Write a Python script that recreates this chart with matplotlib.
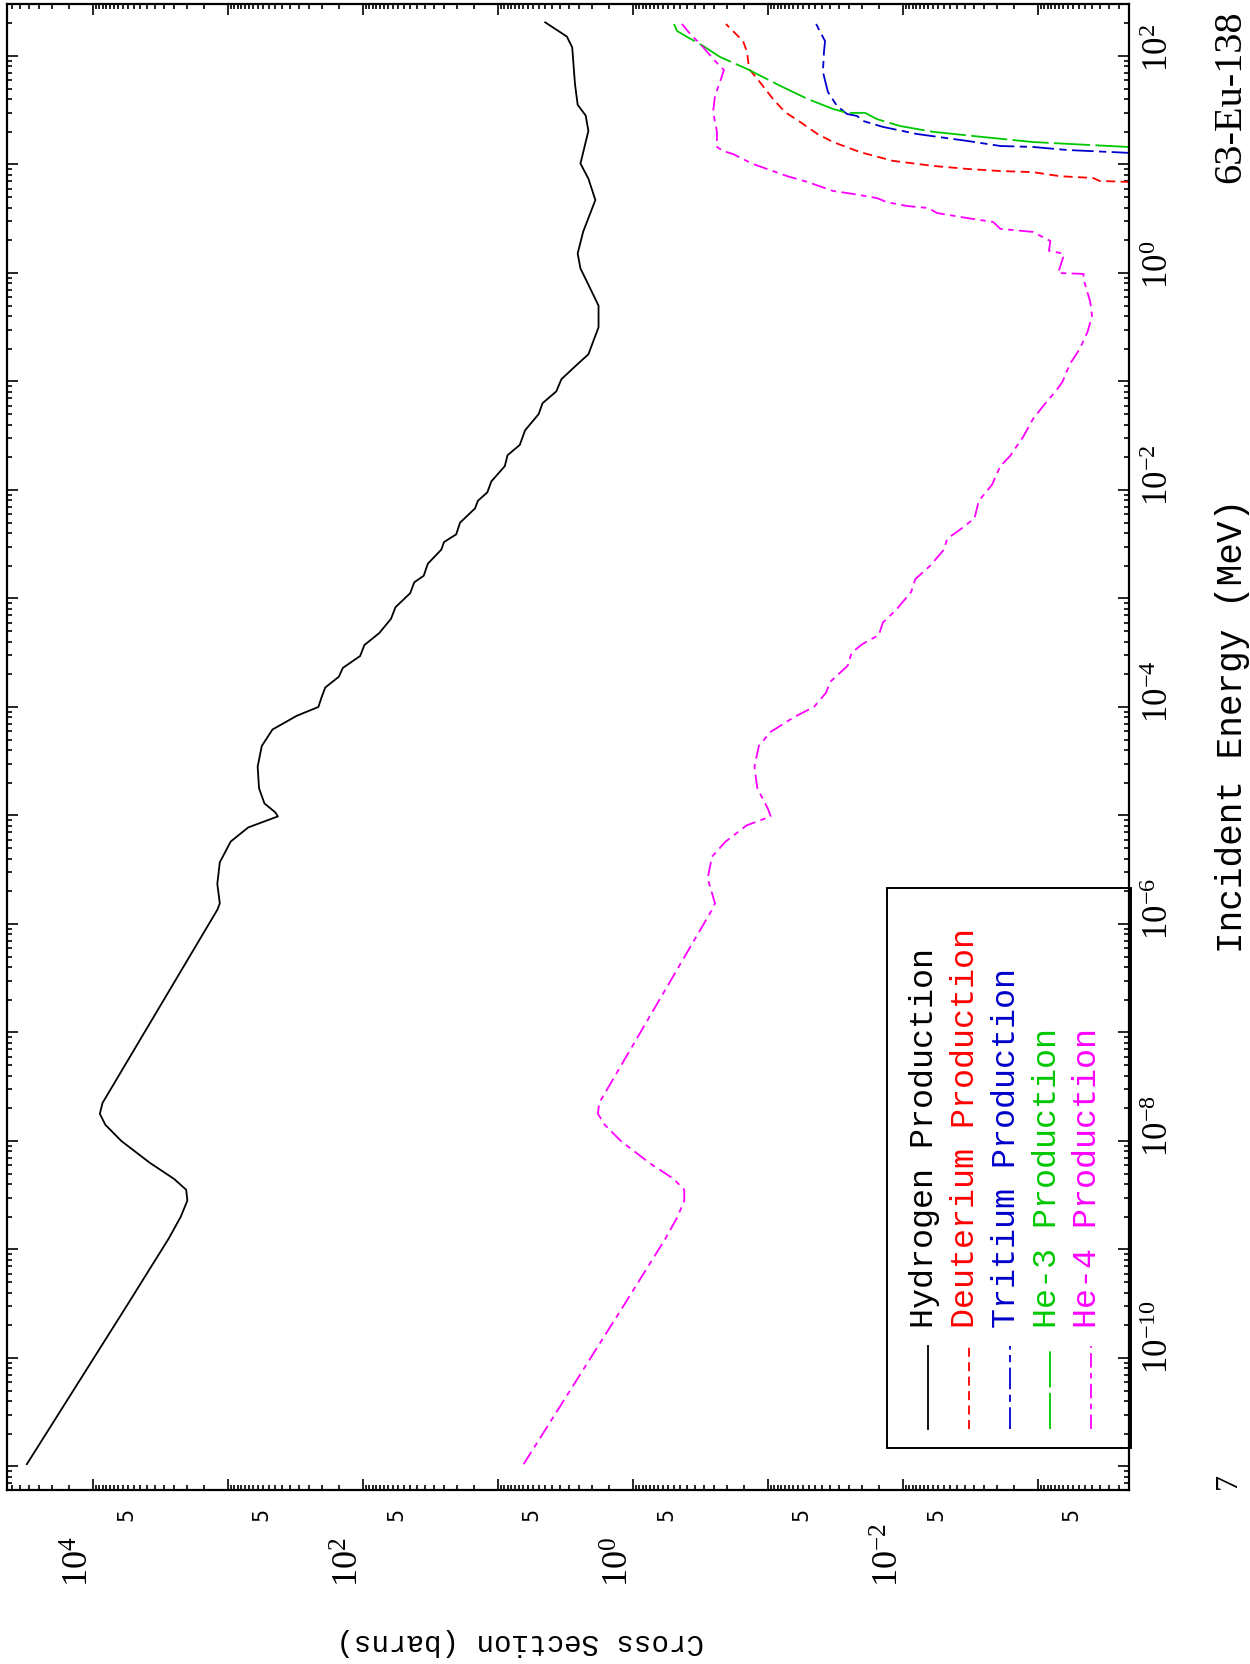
import numpy as np
import matplotlib.pyplot as plt
from matplotlib import transforms as mtransforms
from matplotlib.patches import Rectangle
from matplotlib.ticker import LogLocator, NullFormatter

plt.rcParams['mathtext.fontset'] = 'custom'
plt.rcParams['mathtext.rm'] = 'Liberation Serif'
plt.rcParams['mathtext.it'] = 'Liberation Serif:italic'

# incident energy (MeV) and cross section (barns)
h_e = [1.05e-11, 3.16e-10, 1.26e-9, 2.0e-9, 2.82e-9, 3.55e-9, 4.47e-9, 6.3e-9, 1.0e-8,
       1.41e-8, 1.78e-8, 2.24e-8, 1.35e-6, 1.55e-6, 2.34e-6, 3.7e-6, 5.75e-6, 7.76e-6,
       9.8e-6, 1.07e-5, 1.29e-5, 1.78e-5, 2.82e-5, 4.37e-5, 6.2e-5, 8.3e-5, 1.0e-4,
       1.2e-4, 1.51e-4, 1.9e-4, 2.29e-4, 2.95e-4, 3.72e-4, 4.79e-4, 6.5e-4, 8.3e-4,
       1.12e-3, 1.41e-3, 1.62e-3, 2.09e-3, 2.82e-3, 3.31e-3, 3.9e-3, 5.0e-3, 6.76e-3,
       7.94e-3, 9.5e-3, 1.2e-2, 1.66e-2, 2.09e-2, 2.6e-2, 3.55e-2, 5.0e-2, 6.3e-2, 8.1e-2,
       0.105, 0.141, 0.178, 0.316, 0.50, 0.78, 1.10, 1.51, 2.40, 4.7, 7.4, 10.2, 20.4,
       28.2, 35.5, 55, 120, 151, 204]
h_xs = [3.09e4, 5.5e3, 2.75e3, 2.24e3, 2.0e3, 2.04e3, 2.51e3, 3.8e3, 6.17e3,
        8.1e3, 8.9e3, 8.5e3, 1.2e3, 1.15e3, 1.2e3, 1.15e3, 955, 708,
        427, 447, 537, 589, 603, 562, 468, 309, 214,
        204, 190.5, 151, 141, 105, 97.7, 75.9, 62, 57.5,
        44.7, 41.7, 35.5, 33.1, 26.3, 25.1, 20.4, 19.1, 14.8,
        14.1, 12.0, 11.2, 8.9, 8.5, 6.9, 6.3, 5.0, 4.68, 3.7,
        3.39, 2.63, 2.14, 1.80, 1.80, 2.14, 2.45, 2.57, 2.34, 1.9, 2.14, 2.45, 2.14,
        2.24, 2.57, 2.69, 2.82, 3.09, 4.47]

d_e = [6.86, 6.9, 7.05, 7.5, 7.8, 8.5, 8.7, 9.1, 9.7, 10.8, 13.0, 16.1, 19.1, 24.7,
       30.5, 40.2, 57.5, 75.9, 109, 137, 197]
d_xs = [1e-4, 2.1e-4, 3.5e-4, 3.9e-4, 6.9e-4, 1.09e-3, 1.9e-3, 3.36e-3, 6.0e-3, 1.19e-2,
        2.08e-2, 3.3e-2, 4.3e-2, 5.8e-2, 7.5e-2, 9.2e-2, 0.115, 0.138, 0.143, 0.153, 0.205]

t_e = [12.6, 12.8, 13.6, 14.5, 14.8, 16.5, 19.1, 22.2, 25.2, 28.0, 29.2, 34.6, 46.6,
       71.3, 109, 137, 197]
t_xs = [1e-4, 2.15e-4, 6.1e-4, 1.09e-3, 1.9e-3, 3.36e-3, 7.9e-3, 1.41e-2, 1.98e-2,
        2.19e-2, 2.6e-2, 3.08e-2, 3.6e-2, 3.92e-2, 3.85e-2, 3.78e-2, 4.4e-2]

he3_e = [14.1, 14.5, 15.5, 16.1, 17.9, 20.0, 22.6, 26.2, 29.9, 29.9, 32.5, 40.2, 53,
         75.9, 98, 124, 150, 170, 197]
he3_xs = [1e-4, 2.15e-4, 6.1e-4, 1.09e-3, 2.55e-3, 6.0e-3, 1.05e-2, 1.56e-2, 1.91e-2,
          2.6e-2, 3.3e-2, 5.1e-2, 8.1e-2, 0.143, 0.227, 0.303, 0.398, 0.472, 0.497]

he4_e = [1.05e-11, 3.16e-10, 1.26e-9, 2.0e-9, 2.82e-9, 3.55e-9, 4.47e-9, 6.3e-9, 1.0e-8,
         1.41e-8, 1.78e-8, 2.24e-8, 1.35e-6, 1.55e-6, 2.63e-6, 4.17e-6, 5.75e-6, 8.1e-6,
         9.8e-6, 1.15e-5, 1.78e-5, 2.82e-5, 4.37e-5, 5.9e-5, 8.1e-5, 1.0e-4, 1.35e-4,
         1.7e-4, 2.4e-4, 3.16e-4, 3.8e-4, 4.6e-4, 6.0e-4, 7.9e-4, 1.15e-3, 1.51e-3,
         2.0e-3, 2.8e-3, 3.55e-3, 4.4e-3, 5.5e-3, 7.9e-3, 1.12e-2, 1.66e-2, 2.06e-2,
         3.08e-2, 4.5e-2, 5.9e-2, 8.5e-2, 9.9e-2, 0.145, 0.20, 0.286, 0.40, 0.54, 0.88,
         0.98, 1.0, 1.40, 1.51, 1.6, 1.97, 2.39, 2.55, 2.95, 3.21, 3.57, 3.97, 4.14, 4.5,
         4.9, 5.35, 5.7, 6.9, 7.8, 9.1, 10.1, 11.2, 12.5, 13.3, 14.5, 20, 30.5, 42.8,
         57.5, 74.3, 90, 121, 160, 197]
he4_xs = [6.46, 1.15, 0.575, 0.468, 0.417, 0.417, 0.50, 0.76, 1.23,
          1.62, 1.82, 1.78, 0.26, 0.247, 0.28, 0.26, 0.206, 0.144,
          0.0955, 0.1, 0.12, 0.126, 0.117, 0.0955, 0.0637, 0.0457, 0.0372,
          0.0347, 0.0257, 0.024, 0.020, 0.0151, 0.0141, 0.0112, 8.7e-3, 8.1e-3,
          6.3e-3, 5.0e-3, 4.7e-3, 3.7e-3, 2.95e-3, 2.75e-3, 2.19e-3, 1.9e-3, 1.61e-3,
          1.29e-3, 1.09e-3, 9.2e-4, 7.2e-4, 6.6e-4, 5.8e-4, 4.9e-4, 4.3e-4, 3.98e-4, 4.1e-4, 4.6e-4,
          4.6e-4, 7.1e-4, 6.5e-4, 6.5e-4, 8.3e-4, 8.1e-4, 1.09e-3, 1.9e-3, 2.15e-3, 3.36e-3, 5.6e-3, 6.5e-3, 9.3e-3, 1.32e-2,
          1.56e-2, 2.34e-2, 3.3e-2, 5.1e-2, 7.2e-2, 0.102, 0.129, 0.153, 0.182, 0.215, 0.239, 0.239, 0.255, 0.247,
          0.227, 0.212, 0.247, 0.303, 0.378, 0.434]

names = ['Hydrogen Production', 'Deuterium Production', 'Tritium Production',
         'He-3 Production', 'He-4 Production']
energies = [h_e, d_e, t_e, he3_e, he4_e]
xsecs = [h_xs, d_xs, t_xs, he3_xs, he4_xs]
colors = ['black', '#ff0000', '#0000cc', '#00c800', '#ff00ff']
dashes = [None, (5, 3), (12, 3, 4, 3), (20, 3), (8, 3, 3, 3)]

fig = plt.figure(figsize=(12.5, 16.65), dpi=100)
# the plot is drawn sideways: cross section runs along x (reversed), energy along y
ax = fig.add_axes([0.0056, 0.1045, 0.8976, 0.8925])
ax.set_xscale('log')
ax.set_yscale('log')

for e, xs, c, d in zip(energies, xsecs, colors, dashes):
    ln, = ax.plot(xs, e, color=c, lw=1.3)
    if d is not None:
        ln.set_dashes(d)

ax.set_xlim(10**4.637, 10**-3.674)
ax.set_ylim(10**-11.217, 10**2.479)

ax.xaxis.set_major_locator(LogLocator(base=10, numticks=30))
ax.xaxis.set_minor_locator(LogLocator(base=10, subs=np.arange(1.5, 10, 0.5), numticks=30))
ax.yaxis.set_major_locator(LogLocator(base=10, numticks=30))
ax.yaxis.set_minor_locator(LogLocator(base=10, subs=np.arange(2, 10), numticks=30))
for axis in (ax.xaxis, ax.yaxis):
    axis.set_major_formatter(NullFormatter())
    axis.set_minor_formatter(NullFormatter())
ax.tick_params(which='both', direction='in', top=True, right=True, width=1.2)
ax.tick_params(which='major', length=8)
ax.tick_params(which='minor', length=3.5)
for s in ax.spines.values():
    s.set_linewidth(1.6)

# tick labels, rotated like the rest of the page
xtr = ax.get_xaxis_transform()
ytr = ax.get_yaxis_transform()
for p in [4, 2, 0, -2]:
    tr = mtransforms.offset_copy(xtr, fig=fig, x=4, y=-96, units='dots')
    ax.text(10.0**p, 0, r'$10^{%d}$' % p, transform=tr, rotation=90,
            ha='right', va='bottom', fontsize=26, fontfamily='Liberation Serif')
for p in range(3, -5, -1):
    tr = mtransforms.offset_copy(xtr, fig=fig, x=3, y=-17, units='dots')
    ax.text(5 * 10.0**p, 0, '5', transform=tr, rotation=90,
            ha='right', va='top', fontsize=15, fontfamily='DejaVu Sans')
for p in [2, 0, -2, -4, -6, -8, -10]:
    tr = mtransforms.offset_copy(ytr, fig=fig, x=14, y=-15, units='dots')
    ax.text(1, 10.0**p, r'$10^{%d}$' % p, transform=tr, rotation=90,
            ha='left', va='bottom', fontsize=25, fontfamily='Liberation Serif')

fig.text(0.9856, 0.564, 'Incident Energy (MeV)', rotation=90, ha='center', va='center',
         fontsize=26, fontfamily='Liberation Mono')
fig.text(0.416, 0.0138, 'Cross Section (barns)', rotation=180, ha='center', va='center',
         fontsize=21, fontfamily='Liberation Mono')
fig.text(0.985, 0.9417, '63-Eu-138', rotation=90, ha='center', va='center',
         fontsize=29, fontfamily='Liberation Serif')
fig.text(0.983, 0.1105, '7', rotation=90, ha='center', va='center',
         fontsize=23, fontfamily='Liberation Serif')

# legend box, drawn by hand so it can be turned with the page
ax.add_patch(Rectangle((0.784, 0.0283), 0.2178, 0.3767, transform=ax.transAxes,
                       fill=False, lw=1.4, ec='black', clip_on=False, zorder=5))
leg_x = [0.821, 0.857, 0.894, 0.930, 0.966]
for lx, name, c, d in zip(leg_x, names, colors, dashes):
    ln, = ax.plot([lx, lx], [0.041, 0.0969], transform=ax.transAxes, color=c, lw=1.3,
                  clip_on=False)
    if d is not None:
        ln.set_dashes(d)
    ax.text(lx - 0.003, 0.110, name, transform=ax.transAxes, rotation=90, ha='center',
            va='bottom', color=c, fontsize=24, fontfamily='Liberation Mono')

plt.savefig('out.png', dpi=100)
